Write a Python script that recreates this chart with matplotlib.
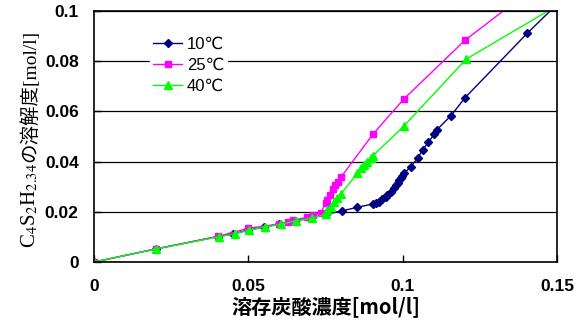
import matplotlib
matplotlib.use("Agg")
import matplotlib.pyplot as plt

# 10℃
x10 = [0, 0.02, 0.04, 0.045, 0.05, 0.055, 0.06, 0.065, 0.07, 0.075,
       0.0804, 0.0853, 0.0902, 0.0912, 0.0923, 0.0934, 0.0945, 0.095, 0.0961,
       0.0972, 0.0977, 0.0983, 0.0988, 0.0994, 0.0999, 0.1004, 0.1026, 0.1048,
       0.1064, 0.1083, 0.1102, 0.111, 0.1156, 0.1202, 0.1403, 0.16]
y10 = [0, 0.0052, 0.0101, 0.0112, 0.0127, 0.014, 0.015, 0.0164, 0.0174, 0.019,
       0.0204, 0.0218, 0.0231, 0.0234, 0.024, 0.025, 0.026, 0.0267, 0.028,
       0.0294, 0.0307, 0.0316, 0.0327, 0.0333, 0.0343, 0.0353, 0.038, 0.0413,
       0.0446, 0.0477, 0.051, 0.0526, 0.0583, 0.0655, 0.0911, 0.1147]

# 25℃
x25 = [0, 0.02, 0.04, 0.05, 0.06, 0.0627, 0.0646, 0.069, 0.071,
       0.0734, 0.075, 0.0755, 0.0764, 0.0775, 0.0782, 0.079, 0.0801,
       0.0904, 0.1004, 0.1202, 0.14]
y25 = [0, 0.0052, 0.0102, 0.0134, 0.0152, 0.016, 0.0167, 0.0178, 0.0187,
       0.0194, 0.0234, 0.0247, 0.0267, 0.0291, 0.0307, 0.032, 0.034,
       0.051, 0.065, 0.0884, 0.107]

# 40℃
x40 = [0, 0.02, 0.0406, 0.0455, 0.0503, 0.0554, 0.0604, 0.0653, 0.0705, 0.075,
       0.0755, 0.0766, 0.0777, 0.0788, 0.0799, 0.0853, 0.0864, 0.0874, 0.0885,
       0.0896, 0.0902, 0.1004, 0.1205, 0.16]
y40 = [0, 0.0052, 0.0101, 0.0112, 0.0127, 0.014, 0.015, 0.0164, 0.0174, 0.019,
       0.0207, 0.022, 0.024, 0.0254, 0.027, 0.0353, 0.0373, 0.0386, 0.040,
       0.0413, 0.0422, 0.0542, 0.0808, 0.1094]

xticks = [0, 0.05, 0.1, 0.15]
xtick_labels = ['0', '0.05', '0.1', '0.15']
yticks = [0, 0.02, 0.04, 0.06, 0.08, 0.1]
ytick_labels = ['0', '0.02', '0.04', '0.06', '0.08', '0.1']

plt.rcParams['mathtext.fontset'] = 'stix'

fig = plt.figure(figsize=(5.84, 3.29), dpi=100)
ax = fig.add_axes([0.161, 0.2036, 0.793, 0.763])

ax.plot(x10, y10, color='#000080', marker='D', markersize=4, linewidth=1, label='10℃')
ax.plot(x25, y25, color='#FF00FF', marker='s', markersize=5, linewidth=1, label='25℃')
ax.plot(x40, y40, color='#00FF00', marker='^', markersize=6, linewidth=1, label='40℃')

ax.set_xlim(0, 0.15)
ax.set_ylim(0, 0.1)
ax.set_xticks(xticks)
ax.set_xticklabels(xtick_labels)
ax.set_yticks(yticks)
ax.set_yticklabels(ytick_labels)
ax.tick_params(axis='x', direction='in', length=5, width=1, pad=12)
ax.tick_params(axis='y', direction='in', length=5, width=1, pad=11)
for lab in ax.get_xticklabels() + ax.get_yticklabels():
    lab.set_fontfamily(['Liberation Sans'])
    lab.set_fontweight('bold')
    lab.set_fontsize(12.5)

ax.yaxis.grid(True, color='black', linewidth=0.9)
ax.set_axisbelow(True)
for s in ax.spines.values():
    s.set_linewidth(1.2)

ax.set_xlabel('溶存炭酸濃度[mol/l]', fontsize=14.5, fontweight='bold',
              family=['Noto Sans CJK JP'], labelpad=2)

# y label in two pieces: formula (mathtext) + Japanese text
t1 = fig.text(0.06, 0.246, 'C$_4$S$_2$H$_{2.34}$', rotation=90,
              rotation_mode='anchor', ha='left', va='baseline', fontsize=15,
              family=['Liberation Serif'])
fig.canvas.draw()
bb = t1.get_window_extent()
top = fig.transFigure.inverted().transform((0, bb.y1))[1]
fig.text(0.06, top + 0.004, 'の溶解度[mol/l]', rotation=90,
         rotation_mode='anchor', ha='left', va='baseline', fontsize=14,
         family=['Liberation Serif', 'Noto Sans CJK JP'])

leg = ax.legend(loc='upper left', bbox_to_anchor=(0.103, 0.945), frameon=True,
                fancybox=False, edgecolor='white', framealpha=1,
                prop={'family': ['Liberation Sans', 'DejaVu Sans'], 'size': 12},
                handlelength=1.7, handletextpad=0.3, labelspacing=0.38,
                borderpad=0.2)

fig.savefig('out.png', dpi=100)
